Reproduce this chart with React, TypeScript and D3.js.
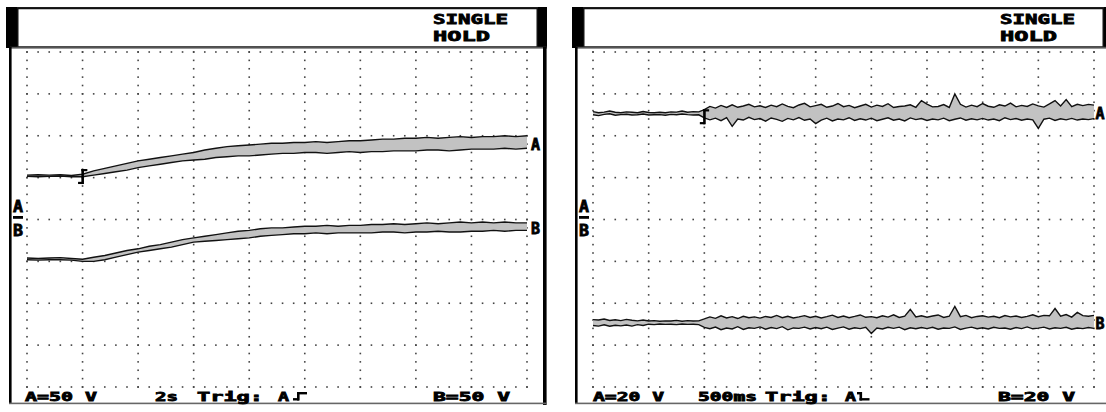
import React, { useEffect } from 'react';
import * as d3 from 'd3';

// ---------- Left capture: 2 s/div, 50 V/div, one sample every 0.4 s ----------
const leftSampleStep = 0.4;
const leftTimeSpan = 18;
const leftVoltSpan = 200;
const leftTrigTime = 2;
const leftAMax = [53, 53.5, 53, 53.5, 52.5, 54, 58, 61, 64, 67, 70, 72, 74, 76, 78, 80, 83, 85, 87, 88, 89, 90, 91, 91, 92, 92, 93, 92, 93, 94, 94, 95, 96, 96, 97, 97, 98, 97, 98, 99, 98, 99, 99, 100, 99, 100];
const leftAMin = [51.5, 51, 51.5, 52, 51, 51, 53, 55, 57, 59, 62, 64, 66, 68, 70, 71, 72, 74, 75, 76, 76, 77, 78, 79, 79, 80, 80, 79, 80, 81, 80, 81, 81, 82, 82, 82, 83, 83, 82, 83, 84, 84, 84, 85, 84, 85];
const leftBMax = [-46, -46.5, -46, -45.5, -46.5, -47.5, -45, -43, -40, -37, -35, -32, -30, -27, -24, -22, -20, -18, -16, -14, -13, -11, -10, -10, -9, -8, -8, -7, -8, -7, -7, -6, -6, -5, -6, -5, -4, -5, -4, -3, -4, -3, -4, -3, -4, -4];
const leftBMin = [-48, -48.5, -48, -48, -48.5, -50, -50, -48, -45, -42, -39, -37, -35, -33, -30, -27, -26, -25, -24, -23, -22, -20, -19, -18, -17, -17, -16, -17, -16, -16, -16, -16, -15, -15, -16, -15, -15, -14, -15, -15, -14, -14, -13, -14, -13, -13];
const leftBottomTexts = ['A=50 V', '2s', 'Trig:', 'A', 'B=50 V'];

// ---------- Right capture: 500 ms/div, 20 V/div, one sample every 0.05 s ----------
const rightSampleStep = 0.05;
const rightTimeSpan = 4.5;
const rightVoltSpan = 80;
const rightTrigTime = 1.0;
const rightAMax = [
  51.5, 51.0, 51.3, 51.8, 51.2, 51.0, 51.4, 51.2, 51.0, 51.6,
  51.1, 51.0, 51.2, 51.0, 51.4, 51.3, 51.8, 51.2, 51.5, 51.4,
  52.5, 54.0, 53.2, 54.5, 53.5, 54.8, 53.6, 54.2, 55.0, 53.8,
  54.3, 53.5, 54.6, 53.9, 55.2, 54.0, 53.4, 54.7, 55.5, 53.8,
  54.4, 55.0, 53.6, 54.2, 55.4, 53.9, 54.5, 53.4, 54.2, 55.0,
  53.7, 54.6, 54.0, 55.3, 53.5, 54.0, 54.2, 54.8, 53.6, 56.8,
  55.1, 53.8, 54.0, 54.9, 53.5, 60.0, 55.0, 53.7, 54.6, 53.9,
  55.4, 54.1, 53.6, 54.8, 54.2, 55.6, 53.8, 54.5, 54.0, 55.2,
  54.3, 53.7, 55.2, 56.8, 54.2, 57.3, 53.9, 55.0, 54.4, 55.0,
  54.6
];
const rightAMin = [
  50.0, 49.6, 50.2, 50.5, 49.8, 50.1, 50.3, 49.9, 50.0, 50.4,
  49.9, 50.0, 50.1, 49.8, 50.2, 50.0, 50.4, 50.1, 49.9, 50.0,
  48.5, 47.6, 48.4, 47.2, 48.6, 44.5, 48.0, 47.5, 48.8, 47.7,
  48.2, 47.0, 48.5, 47.8, 46.9, 48.3, 47.6, 48.7, 47.4, 48.0,
  45.8, 47.5, 48.4, 47.1, 48.0, 47.6, 48.6, 47.3, 48.1, 47.5,
  48.4, 47.2, 47.9, 48.6, 47.4, 48.0, 47.1, 48.5, 47.7, 48.2,
  47.3, 48.0, 47.6, 48.4, 47.2, 47.9, 48.5, 47.4, 48.1, 47.6,
  48.3, 47.5, 48.0, 47.2, 48.6, 47.7, 48.2, 47.4, 48.0, 47.6,
  43.5, 47.9, 48.4, 47.3, 48.1, 47.6, 48.3, 47.5, 48.0, 47.7,
  48.2
];
const rightBMax = [
  -47.8, -48.0, -47.5, -48.2, -47.9, -48.3, -47.7, -48.1, -48.4, -48.0,
  -48.5, -48.3, -48.6, -48.4, -48.5, -48.2, -48.6, -48.3, -48.5, -48.4,
  -47.5, -46.5, -47.2, -46.0, -47.0, -46.4, -47.3, -46.2, -46.9, -46.5,
  -47.1, -46.3, -46.8, -45.8, -46.9, -46.2, -47.0, -46.5, -45.9, -46.8,
  -46.2, -47.0, -46.4, -45.7, -46.8, -46.1, -46.9, -46.3, -45.6, -46.7,
  -46.4, -46.9, -46.0, -46.6, -45.5, -46.8, -46.2, -42.9, -46.5, -46.0,
  -46.7, -46.1, -45.6, -46.8, -46.2, -41.5, -46.4, -45.8, -46.9, -46.3,
  -46.0, -46.6, -46.2, -46.9, -45.9, -46.5, -46.1, -46.8, -46.3, -45.5,
  -46.4, -45.8, -46.0, -42.5, -46.2, -45.4, -46.6, -44.4, -45.9, -46.2,
  -45.8
];
const rightBMin = [
  -50.6, -50.9, -50.3, -51.0, -50.5, -50.8, -50.4, -50.9, -50.2, -50.6,
  -50.0, -50.2, -49.9, -50.1, -50.0, -50.2, -49.9, -50.1, -50.0, -50.2,
  -51.5, -52.2, -51.4, -52.6, -51.8, -52.3, -51.2, -52.5, -51.7, -52.0,
  -51.3, -52.4, -51.6, -52.1, -51.2, -52.7, -51.8, -52.0, -51.4, -52.3,
  -51.6, -52.2, -51.4, -52.5, -51.9, -51.3, -52.4, -51.7, -52.1, -51.5,
  -54.4, -51.8, -52.3, -51.5, -52.0, -51.4, -52.6, -51.7, -52.2, -51.6,
  -52.1, -51.5, -52.4, -51.8, -52.0, -51.3, -52.5, -51.9, -51.4, -52.2,
  -51.7, -52.3, -51.5, -52.0, -51.8, -52.4, -51.6, -52.1, -51.3, -52.2,
  -51.9, -51.4, -52.3, -51.7, -52.0, -51.5, -52.4, -51.8, -52.1, -51.6,
  -52.0
];
const rightBottomTexts = ['A=20 V', '500ms', 'Trig:', 'A', 'B=20 V'];

const headerTexts = ['SINGLE', 'HOLD'];
const traceNames = ['A', 'B'];

const FONT = '"DejaVu Sans Mono", monospace';
const GY0 = 52;
const GY1 = 387;

type Cfg = {
  ox: number; gx0: number; gx1: number;
  tMax: number; vMax: number; step: number; trig: number;
  traces: { max: number[]; min: number[] }[];
  bottom: string[]; bottomX: number[]; bottomLen: number[];
  edge: 'rise' | 'fall'; edgeX: number;
  headerX: number;
  markerDy: number;
  labelDx: number;
};

const panels: Cfg[] = [
  {
    ox: 6, gx0: 27, gx1: 527, tMax: leftTimeSpan, vMax: leftVoltSpan, step: leftSampleStep, trig: leftTrigTime,
    traces: [{ max: leftAMax, min: leftAMin }, { max: leftBMax, min: leftBMin }],
    bottom: leftBottomTexts, bottomX: [25, 155, 197, 278, 433], bottomLen: [72, 23, 66, 11, 77],
    edge: 'rise', edgeX: 293, headerX: 433, markerDy: 0.5, labelDx: 4,
  },
  {
    ox: 572, gx0: 593, gx1: 1094, tMax: rightTimeSpan, vMax: rightVoltSpan, step: rightSampleStep, trig: rightTrigTime,
    traces: [{ max: rightAMax, min: rightAMin }, { max: rightBMax, min: rightBMin }],
    bottom: rightBottomTexts, bottomX: [593, 698, 765, 845, 998], bottomLen: [71, 59, 66, 11, 77],
    edge: 'fall', edgeX: 858, headerX: 1000, markerDy: 2.5, labelDx: 1.5,
  },
];

function Panel({ p }: { p: Cfg }) {
  const x = d3.scaleLinear().domain([0, p.tMax]).range([p.gx0, p.gx1]);
  const y = d3.scaleLinear().domain([-p.vMax, p.vMax]).range([GY1, GY0]);
  const divT = p.tMax / 9;
  const divV = p.vMax / 4;
  const majorT = d3.range(10).map((i) => i * divT);
  const minorT = d3.range(46).map((i) => (i * divT) / 5);
  const majorV = d3.range(9).map((i) => -p.vMax + i * divV);
  const minorV = d3.range(41).map((i) => -p.vMax + (i * divV) / 5);

  const dots: [number, number][] = [];
  majorT.forEach((t) => minorV.forEach((v) => dots.push([x(t), y(v)])));
  majorV.forEach((v) => minorT.forEach((t) => dots.push([x(t), y(v)])));

  const ox = p.ox;
  const txt = { fontFamily: FONT, fontWeight: 700, fill: '#000', stroke: '#000', strokeWidth: 0.8 } as const;

  const area = (tr: { max: number[]; min: number[] }) =>
    d3.area<number>()
      .x((_, i) => x(i * p.step))
      .y0((_, i) => y(tr.min[i]))
      .y1((d) => y(d))(tr.max) || '';
  const line = (arr: number[]) =>
    d3.line<number>().x((_, i) => x(i * p.step)).y((d) => y(d))(arr) || '';

  const trigIdx = Math.round(p.trig / p.step);
  const aTr = p.traces[0];
  const tcx = x(p.trig);
  const tcy = y((aTr.max[trigIdx] + aTr.min[trigIdx]) / 2) + p.markerDy;

  const y0 = y(0);
  const bx = p.edgeX;
  const bTop = 392;
  const bBase = 400.5;

  return (
    <g>
      {/* frame */}
      <rect x={ox} y={7} width={541} height={1.6} fill="#222" />
      <rect x={ox} y={7} width={11} height={41} fill="#000" />
      <rect x={ox + 11.75} y={8.5} width={519.5} height={38.5} fill="#fff" stroke="#111" strokeWidth={1.5} />
      <rect x={ox + 532} y={7} width={9} height={41} fill="#000" />
      <rect x={ox + 4} y={46.8} width={537} height={1.8} fill="#555" />
      <rect x={ox + 3} y={47} width={2.6} height={357} fill="#000" />
      <rect x={ox + 537} y={47} width={3.6} height={358} fill="#000" />
      <rect x={ox + 3} y={402.6} width={537} height={1.6} fill="#666" />

      {/* header */}
      <text x={p.headerX} y={24} fontSize={14.5} textLength={75} lengthAdjust="spacingAndGlyphs" style={txt}>{headerTexts[0]}</text>
      <text x={p.headerX} y={40.5} fontSize={14.5} textLength={57} lengthAdjust="spacingAndGlyphs" style={txt}>{headerTexts[1]}</text>

      {/* grid dots */}
      {dots.map(([dx, dy], i) => (
        <rect key={i} x={dx - 0.8} y={dy - 0.8} width={1.6} height={1.6} fill="#444" />
      ))}

      {/* traces */}
      {p.traces.map((tr, k) => (
        <g key={k}>
          <path d={area(tr)} fill="#c2c2c2" stroke="none" />
          <path d={line(tr.max)} fill="none" stroke="#111" strokeWidth={1.4} />
          <path d={line(tr.min)} fill="none" stroke="#111" strokeWidth={1.4} />
          <text
            x={x(p.tMax) + p.labelDx}
            y={y((tr.max[tr.max.length - 1] + tr.min[tr.min.length - 1]) / 2) + 7.5}
            fontSize={15}
            textLength={9}
            lengthAdjust="spacingAndGlyphs"
            style={txt}
          >
            {traceNames[k]}
          </text>
        </g>
      ))}

      {/* trigger marker */}
      <rect x={tcx - 1.2} y={tcy - 7} width={2.6} height={15} fill="#000" />
      <rect x={tcx - 1.2} y={tcy - 7} width={6} height={2.2} fill="#000" />
      <rect x={tcx - 4.5} y={tcy + 5.8} width={5} height={2.2} fill="#000" />

      {/* zero-level markers */}
      <text x={ox + 7} y={y0 - 7.5} fontSize={15.5} textLength={10} lengthAdjust="spacingAndGlyphs" style={txt}>{traceNames[0]}</text>
      <rect x={ox + 7} y={y0 - 3.5} width={10} height={2.8} fill="#000" />
      <text x={ox + 7} y={y0 + 16} fontSize={15} textLength={10} lengthAdjust="spacingAndGlyphs" style={txt}>{traceNames[1]}</text>

      {/* bottom status line */}
      {p.bottom.map((s, i) => (
        <text key={i} x={p.bottomX[i]} y={bBase} fontSize={12.5} textLength={p.bottomLen[i]} lengthAdjust="spacingAndGlyphs" style={txt}>
          {s}
        </text>
      ))}
      {p.edge === 'rise' ? (
        <g fill="#000">
          <rect x={bx} y={bBase - 2.4} width={6} height={2.4} />
          <rect x={bx + 4} y={bTop} width={2.6} height={bBase - bTop} />
          <rect x={bx + 4} y={bTop} width={10} height={2.4} />
        </g>
      ) : (
        <g fill="#000">
          <rect x={bx - 1} y={bTop} width={4} height={2.4} />
          <rect x={bx + 1.5} y={bTop} width={2.6} height={bBase - bTop} />
          <rect x={bx + 1.5} y={bBase - 2.4} width={10} height={2.4} />
        </g>
      )}
    </g>
  );
}

export default function App() {
  useEffect(() => {
    document.body.style.margin = '0';
  }, []);
  return (
    <svg
      width={1106}
      height={412}
      viewBox="0 0 1106 412"
      style={{ position: 'absolute', left: 0, top: 0, background: '#fff', display: 'block' }}
    >
      <rect x={0} y={0} width={1106} height={412} fill="#fff" />
      {panels.map((p, i) => (
        <Panel key={i} p={p} />
      ))}
    </svg>
  );
}
